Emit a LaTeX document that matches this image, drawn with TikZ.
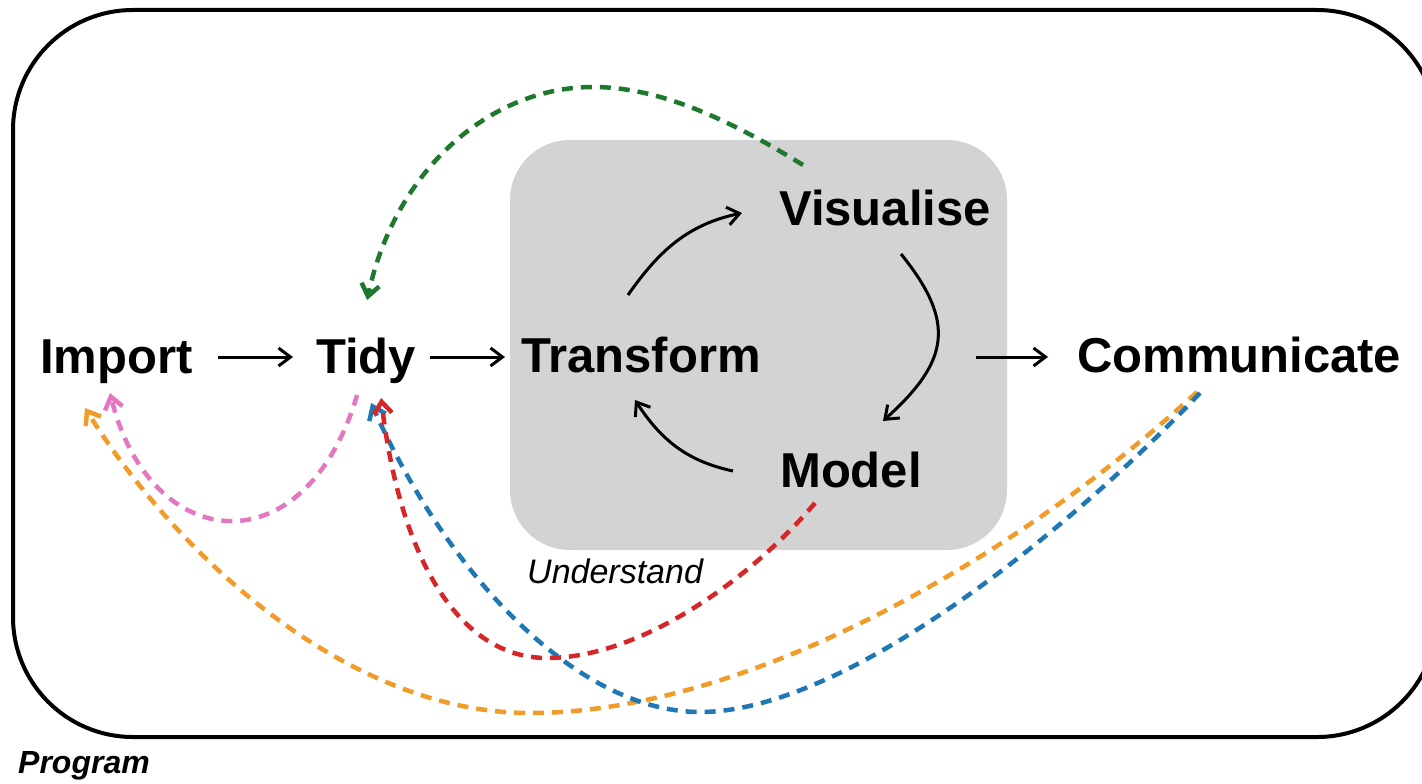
\documentclass[tikz,border=0pt]{standalone}
\usepackage{fontspec}
\setmainfont{Liberation Sans}
\usetikzlibrary{arrows.meta,calc}
\definecolor{boxgray}{RGB}{212,211,212}
\definecolor{cgreen}{RGB}{30,120,45}
\definecolor{cpink}{RGB}{227,119,194}
\definecolor{corange}{RGB}{242,155,40}
\definecolor{cblue}{RGB}{31,119,180}
\definecolor{cred}{RGB}{214,39,40}
\begin{document}
\begin{tikzpicture}[x=1pt,y=-1pt,
  lbl/.style={font=\fontsize{49}{55}\selectfont\bfseries, inner sep=0pt, anchor=base west},
  arr/.style={line width=3pt, -{Straight Barb[length=12pt,width=18pt]}},
  darr/.style={line width=4.5pt, dash pattern=on 11pt off 8pt, -{Straight Barb[length=12pt,width=18pt]}},
]
\useasboundingbox (0,0) rectangle (1422,784);
\clip (0,0) rectangle (1422,784);
\fill[white] (0,0) rectangle (1422,784);
\draw[line width=4pt, rounded corners=120pt] (13,10) rectangle (1437,737);
\node[fill=boxgray, rounded corners=60pt, minimum width=497pt, minimum height=410pt, inner sep=0pt] (ubox) at (758.5,345) {};

\node[lbl] (imp) at (40,373) {Import};
\node[lbl] (tidy) at (316,373) {Tidy};
\node[lbl] (trans) at (521,372) {Transform};
\node[lbl] (vis) at (779,225) {Visualise};
\node[lbl] (model) at (780,487) {Model};
\node[lbl] (comm) at (1077,372) {Communicate};
\node[font=\fontsize{34}{40}\selectfont\itshape, inner sep=0pt, anchor=base west] (und) at (527,583) {Understand};
\node[font=\fontsize{32}{38}\selectfont\bfseries\itshape, inner sep=0pt, anchor=base west] (prog) at (18,773) {Program};

% main flow
\draw[arr] ([shift={(25,-16)}]imp.base east) -- ([shift={(-23,-16)}]tidy.base west);
\draw[arr] ([shift={(14,-16)}]tidy.base east) -- ([shift={(-16,-15)}]trans.base west);
\draw[arr] ([shift={(-31,12)}]ubox.east) -- ([shift={(-29,-15)}]comm.base west);

% cycle
\draw[arr] ([shift={(-13,-77)}]trans.base) to[out=55,in=192] ([shift={(-37,-12)}]vis.base west);
\draw[arr] ([shift={(16,29)}]vis.base) to[out=-51,in=42,looseness=1.35] ([shift={(32,-66)}]model.base);
\draw[arr] ([shift={(-47,-16)}]model.base west) to[out=168,in=-57] ([shift={(-6,28)}]trans.base);

% dashed feedback
\draw[darr, cgreen] ([shift={(24,-60)}]vis.base west) .. controls (730,120) and (660,87) .. (593,87)
   .. controls (490,87) and (395,170) .. ([shift={(1,-73)}]tidy.base);
\draw[darr, cpink] ([shift={(-9,22)}]tidy.base) .. controls (305,570) and (150,555) .. ([shift={(70,20)}]imp.base west);
\draw[darr, corange] ([shift={(120,20)}]comm.base west) .. controls (1020,555) and (750,713) .. (530,713)
   .. controls (350,713) and (180,560) .. ([shift={(45,35)}]imp.base west);
\draw[darr, cblue] ([shift={(123,21)}]comm.base west) .. controls (1080,520) and (850,712) .. (700,712)
   .. controls (580,712) and (450,580) .. ([shift={(5,30)}]tidy.base);
\draw[darr, cred] ([shift={(35,16)}]model.base west) .. controls (750,580) and (640,658) .. (547,658)
   .. controls (460,658) and (400,560) .. ([shift={(15,25)}]tidy.base);
\end{tikzpicture}
\end{document}
